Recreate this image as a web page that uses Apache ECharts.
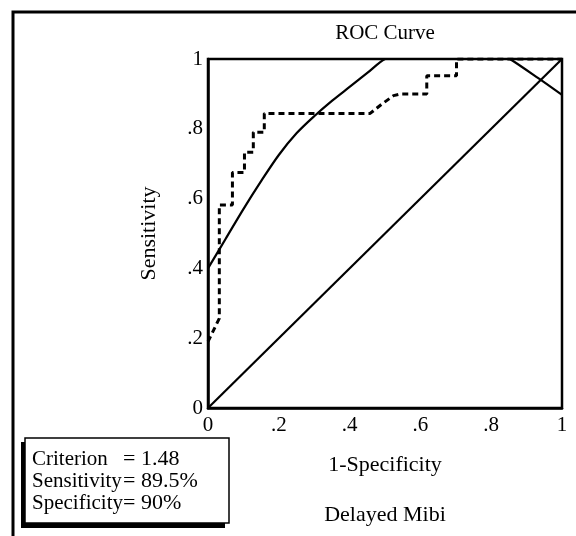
<!DOCTYPE html>
<html>
<head>
<meta charset="utf-8">
<script src="https://cdn.jsdelivr.net/npm/echarts@6/dist/echarts.min.js"></script>
<style>
  html, body { margin: 0; padding: 0; background: #fff; }
  #roc_chart { width: 576px; height: 536px; }
</style>
</head>
<body>
<div id="roc_chart"></div>
<script>
var roc_dom = document.getElementById('roc_chart');
var rocChart = echarts.init(roc_dom, null, { renderer: 'canvas' });

var serif = 'Liberation Serif';

// tick values used on both axes
var ticks = [0, 0.2, 0.4, 0.6, 0.8, 1];
var tickLabels = ['0', '.2', '.4', '.6', '.8', '1'];

// chance line
var diagX = [0, 1];
var diagY = [0, 1];

// fitted curve (clipped above 1)
var fitX = [0, 0.05, 0.1, 0.15, 0.2, 0.25, 0.3, 0.35, 0.4, 0.45, 0.5, 0.6, 0.7, 0.8, 0.853, 0.933, 1];
var fitY = [0.4, 0.485, 0.57, 0.65, 0.725, 0.787, 0.836, 0.88, 0.92, 0.96, 1.0, 1.04, 1.05, 1.03, 1.0, 0.945, 0.897];

// empirical step curve (dashed)
var stepX = [0, 0.032, 0.032, 0.069, 0.069, 0.103, 0.103, 0.128, 0.128, 0.159, 0.159, 0.458, 0.49, 0.524, 0.545, 0.618, 0.618, 0.702, 0.702, 1];
var stepY = [0.19, 0.257, 0.582, 0.582, 0.675, 0.675, 0.733, 0.733, 0.79, 0.79, 0.844, 0.844, 0.87, 0.895, 0.9, 0.9, 0.952, 0.952, 1, 1];

// criterion box text
var boxLabels = ['Criterion', 'Sensitivity', 'Specificity'];
var boxValues = ['= 1.48', '= 89.5%', '= 90%'];

function pairs(xs, ys) {
  return xs.map(function (x, i) { return [x, ys[i]]; });
}

function tickFmt(v) {
  var i = ticks.indexOf(Math.round(v * 10) / 10);
  return i >= 0 ? tickLabels[i] : '';
}

var boxGraphics = [];
boxLabels.forEach(function (t, i) {
  boxGraphics.push({
    type: 'text', x: 32, y: 459 + i * 22,
    style: { text: t, font: '21px ' + serif, fill: '#000', verticalAlign: 'middle' }
  });
  boxGraphics.push({
    type: 'text', x: 123, y: 459 + i * 22,
    style: { text: boxValues[i], font: '22px ' + serif, fill: '#000', verticalAlign: 'middle' }
  });
});

var option = {
  animation: false,
  textStyle: { fontFamily: serif, color: '#000' },
  grid: {
    left: 208, top: 59, right: 14, bottom: 128,
    show: true, borderColor: '#000', borderWidth: 2.5, backgroundColor: 'transparent'
  },
  xAxis: {
    type: 'value', min: 0, max: 1, interval: 0.2,
    name: '1-Specificity', nameLocation: 'middle', nameGap: 46,
    nameTextStyle: { fontFamily: serif, fontSize: 22, color: '#000' },
    axisLine: { show: true, lineStyle: { color: '#000', width: 2.5 } },
    axisTick: { show: false },
    splitLine: { show: false },
    axisLabel: { formatter: tickFmt, fontFamily: serif, fontSize: 21, color: '#000', margin: 7 }
  },
  yAxis: {
    type: 'value', min: 0, max: 1, interval: 0.2,
    name: 'Sensitivity', nameLocation: 'middle', nameGap: 48, nameRotate: 90,
    nameTextStyle: { fontFamily: serif, fontSize: 22, color: '#000' },
    axisLine: { show: true, lineStyle: { color: '#000', width: 2.5 } },
    axisTick: { show: false },
    splitLine: { show: false },
    axisLabel: { formatter: tickFmt, fontFamily: serif, fontSize: 21, color: '#000', margin: 5 }
  },
  series: [
    {
      type: 'line', data: pairs(diagX, diagY), symbol: 'none',
      lineStyle: { color: '#000', width: 2.2 }
    },
    {
      type: 'line', data: pairs(fitX, fitY), symbol: 'none', smooth: 0.3, clip: true,
      lineStyle: { color: '#000', width: 2.2 }
    },
    {
      type: 'line', data: pairs(stepX, stepY), symbol: 'none',
      lineStyle: { color: '#000', width: 3, type: [6, 4] }
    }
  ],
  graphic: [
    {
      type: 'rect', shape: { x: 13, y: 12, width: 620, height: 620 },
      style: { fill: 'none', stroke: '#000', lineWidth: 3 }, silent: true
    },
    {
      type: 'text', x: 385, y: 33,
      style: { text: 'ROC Curve', font: '21px ' + serif, fill: '#000', align: 'center', verticalAlign: 'middle' }
    },
    {
      type: 'text', x: 385, y: 515,
      style: { text: 'Delayed Mibi', font: '22px ' + serif, fill: '#000', align: 'center', verticalAlign: 'middle' }
    },
    {
      type: 'rect', shape: { x: 21, y: 442, width: 204, height: 86 },
      style: { fill: '#000' }, silent: true
    },
    {
      type: 'rect', shape: { x: 25, y: 438, width: 204, height: 85 },
      style: { fill: '#fff', stroke: '#000', lineWidth: 1.5 }, silent: true
    }
  ].concat(boxGraphics)
};

rocChart.setOption(option);

window.addEventListener('resize', rocChart.resize);
</script>
</body>
</html>
